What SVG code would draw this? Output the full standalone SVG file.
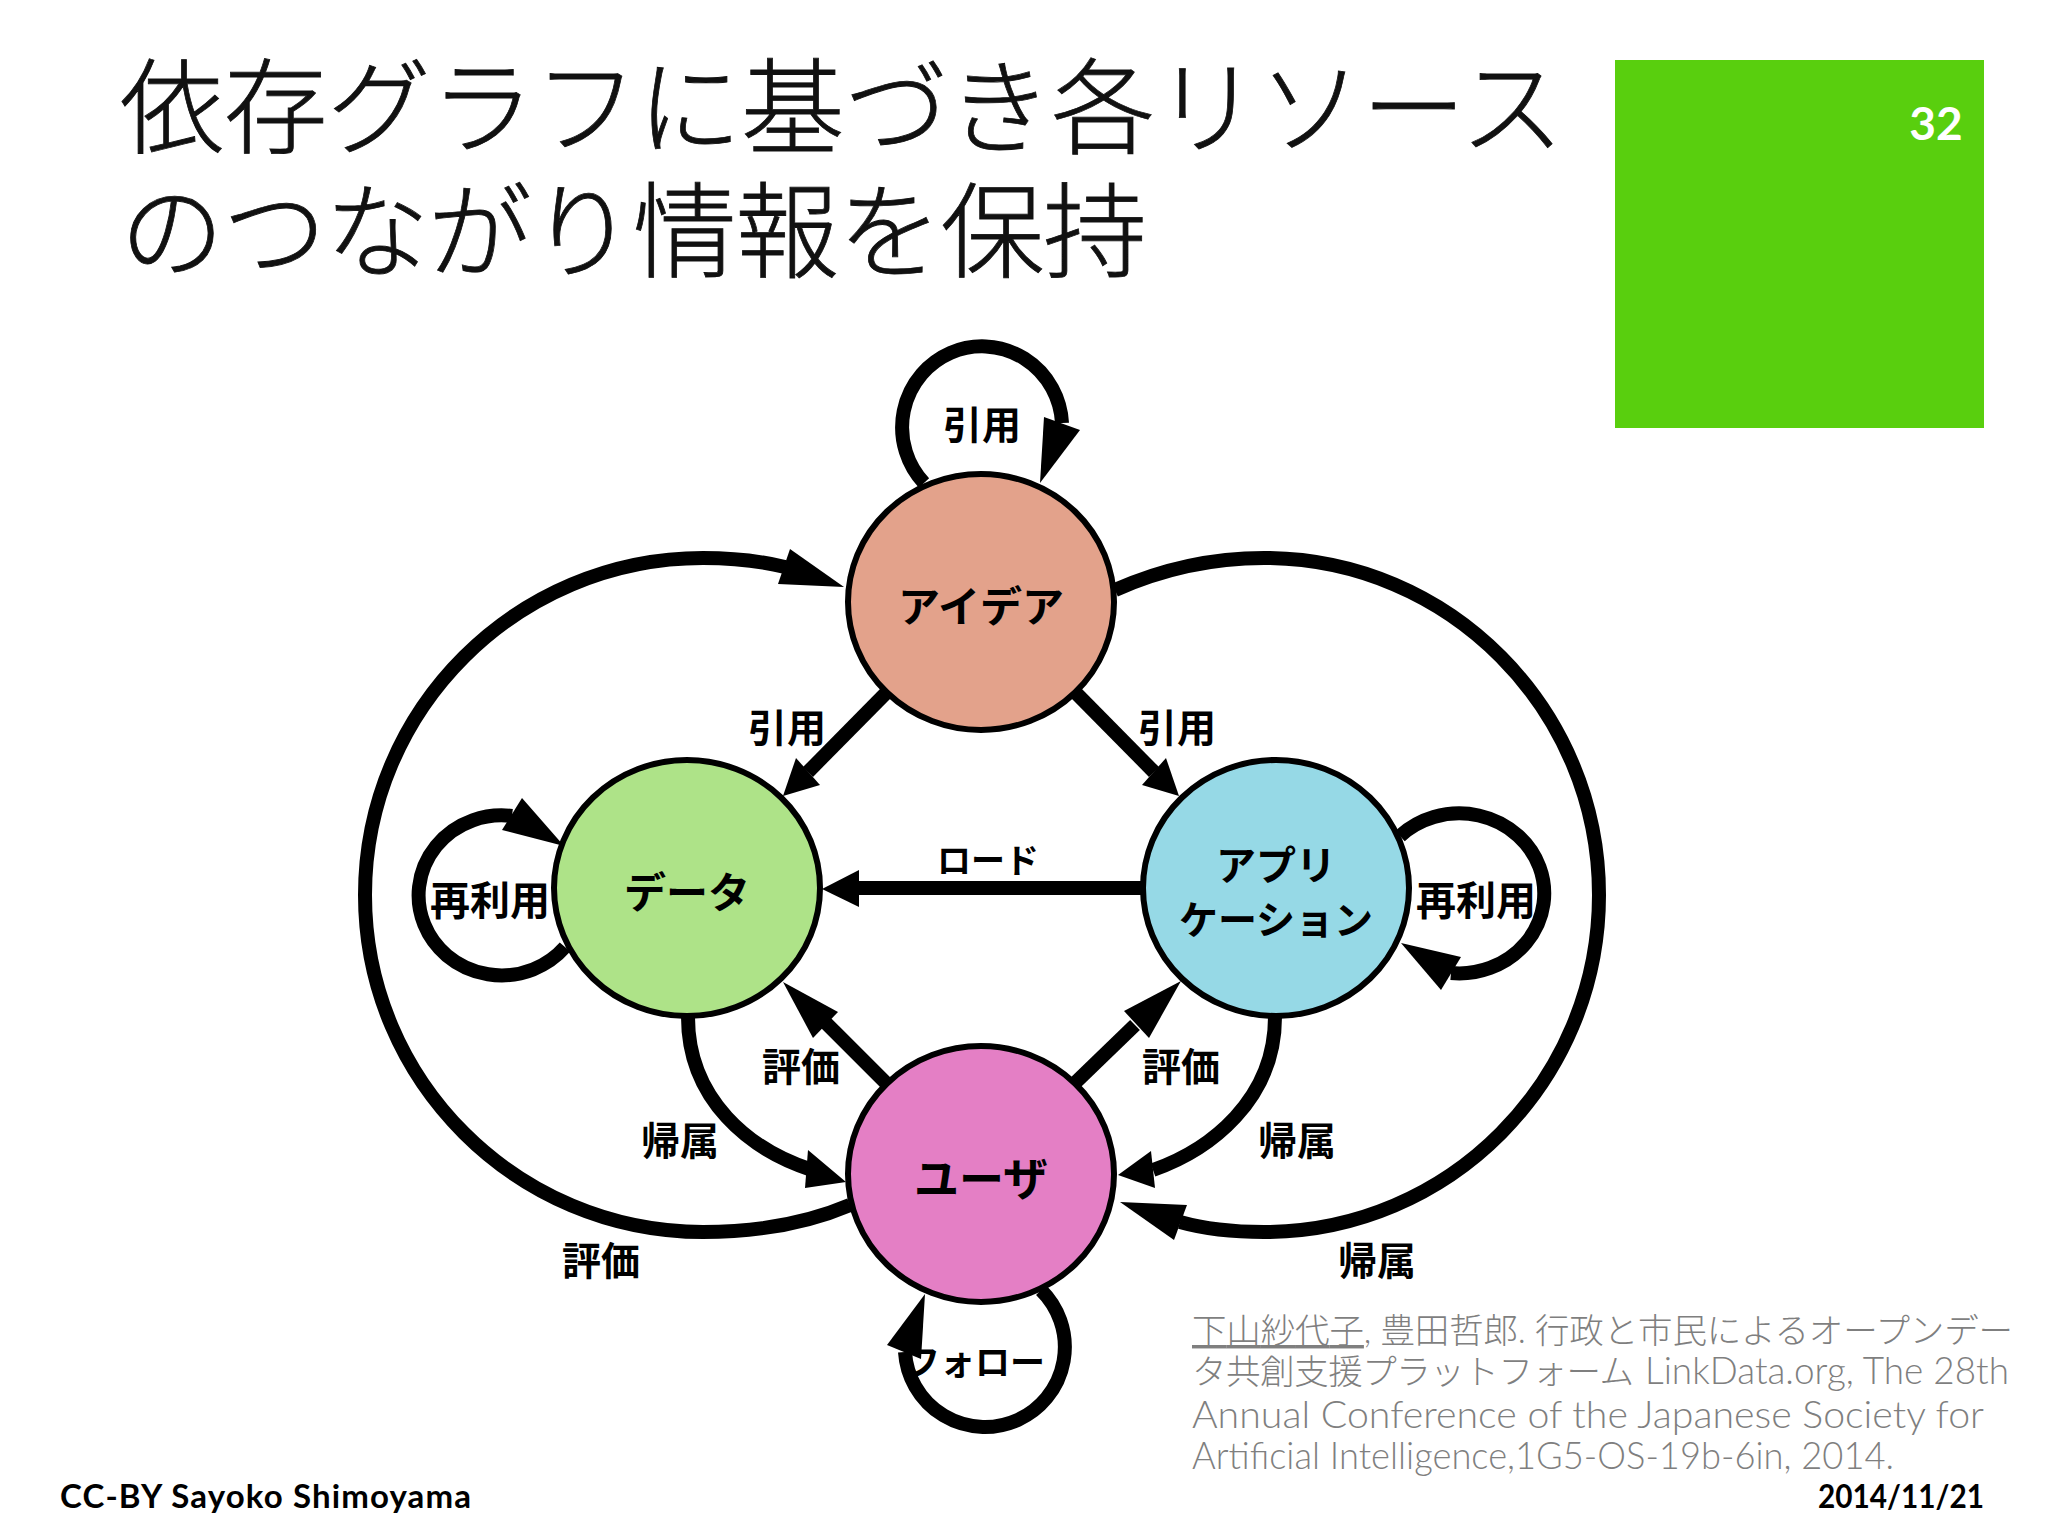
<svg xmlns="http://www.w3.org/2000/svg" width="2048" height="1536" viewBox="0 0 2048 1536">
<style>
.t{font-family:"Noto Sans CJK JP","Noto Sans",sans-serif;fill:#000}
.title{font-size:104px;font-weight:300;fill:#111;stroke:#111;stroke-width:.8}
.lab{font-size:39px;font-weight:700;text-anchor:middle}
.lab3{font-size:40px}
.node-t{font-size:42px;font-weight:700;text-anchor:middle}
.cite{font-family:"Lato","Noto Sans CJK JP",sans-serif;font-size:34.5px;font-weight:300;fill:#7f7f7f}
.lat{font-size:37px}
.foot{font-family:"Lato","Noto Sans",sans-serif;font-size:33px;font-weight:700;fill:#000}
.n{stroke:#000;stroke-width:6}
.c{fill:none;stroke:#000;stroke-width:14}
.h{fill:#000}
</style>
<rect width="2048" height="1536" fill="#fff"/>
<rect x="1615" y="60" width="369" height="368" fill="#59cf0e"/>
<text x="1936" y="140" font-family="Lato,'Noto Sans',sans-serif" font-size="46" font-weight="700" fill="#fff" text-anchor="middle">32</text>
<text class="t title" x="120" y="146" textLength="1444">依存グラフに基づき各リソース</text>
<text class="t title" x="120" y="270" textLength="1027">のつながり情報を保持</text>
<g id="connectors">
<path class="c" d="M924 483A80 81 0 1 1 1062 423"/><polygon class="h" points="1040,483 1044,417 1080,430"/>
<path class="c" d="M850 1205C810 1222 760 1232 703 1232C517 1232 365 1081 365 895C365 709 517 558 703 558C730 558 760 561 785 567"/><polygon class="h" points="844,587 790,549 778,584"/>
<path class="c" d="M1115 590C1160 570 1210 558 1264 558C1449 558 1599 709 1599 895C1599 1081 1449 1232 1264 1232C1235 1232 1205 1229 1180 1222"/><polygon class="h" points="1120,1202 1187,1205 1174,1240"/>
<path class="c" d="M886 693L808 772"/><polygon class="h" points="783,796 796,758 820,785"/>
<path class="c" d="M1076 693L1154 772"/><polygon class="h" points="1179,796 1166,758 1142,785"/>
<path class="c" d="M1146 888H855"/><polygon class="h" points="822,889 859,870 859,907"/>
<path class="c" d="M886 1083L810 1007"/><polygon class="h" points="783,982 838,1012 813,1038"/>
<path class="c" d="M1075 1083L1135 1025"/><polygon class="h" points="1181,981 1124,1011 1149,1038"/>
<path class="c" d="M565 947A83 80 0 1 1 512 816"/><polygon class="h" points="564,846 522,798 502,830"/>
<path class="c" d="M1400 836A85 80 0 1 1 1451 973"/><polygon class="h" points="1401,943 1461,957 1441,990"/>
<path class="c" d="M1041 1290A80 80 0 1 1 905 1352"/><polygon class="h" points="925,1294 887,1345 921,1359"/>
<path class="c" d="M688 1017C688 1100 750 1150 812 1170"/><polygon class="h" points="846,1182 808,1150 805,1188"/>
<path class="c" d="M1275 1017C1275 1100 1210 1150 1153 1170"/><polygon class="h" points="1118,1175 1151,1151 1155,1188"/>
</g>
<g id="node-idea"><ellipse class="n" cx="981" cy="602" rx="133" ry="128" fill="#e3a28b"/><text class="t node-t" x="981" y="622">アイデア</text></g>
<g id="node-data"><ellipse class="n" cx="687" cy="888" rx="133" ry="128" fill="#aee388"/><text class="t node-t" x="687" y="908">データ</text></g>
<g id="node-app"><ellipse class="n" cx="1276" cy="888" rx="133" ry="128" fill="#96d9e6"/><text class="t node-t" x="1276" y="880" style="font-size:40px">アプリ</text><text class="t node-t" x="1276" y="934" style="font-size:39px">ケーション</text></g>
<g id="node-user"><ellipse class="n" cx="981" cy="1174" rx="133" ry="128" fill="#e47fc5"/><text class="t node-t" x="981" y="1196" style="font-size:45px">ユーザ</text></g>
<g id="labels">
<text class="t lab" x="982" y="439">引用</text>
<text class="t lab" x="787" y="742">引用</text>
<text class="t lab" x="1177" y="742">引用</text>
<text class="t lab" x="988" y="873" style="font-size:34px">ロード</text>
<text class="t lab lab3" x="490" y="915">再利用</text>
<text class="t lab lab3" x="1476" y="915">再利用</text>
<text class="t lab" x="801" y="1081">評価</text>
<text class="t lab" x="1181" y="1081">評価</text>
<text class="t lab" x="680" y="1155">帰属</text>
<text class="t lab" x="1297" y="1155">帰属</text>
<text class="t lab" x="601" y="1275">評価</text>
<text class="t lab" x="1377" y="1275">帰属</text>
<text class="t lab" x="975" y="1375" style="font-size:35px">フォロー</text>
</g>
<g id="citation">
<text class="cite" x="1192" y="1343" textLength="821"><tspan text-decoration="underline">下山紗代子</tspan>, 豊田哲郎. 行政と市民によるオープンデー</text>
<text class="cite" x="1192" y="1384" textLength="442">タ共創支援プラットフォーム</text>
<text class="cite lat" x="1645" y="1384" textLength="364" lengthAdjust="spacingAndGlyphs">LinkData.org, The 28th</text>
<text class="cite lat" x="1192" y="1428" textLength="792" lengthAdjust="spacingAndGlyphs">Annual Conference of the Japanese Society for</text>
<text class="cite lat" x="1192" y="1469" textLength="702" lengthAdjust="spacingAndGlyphs">Artificial Intelligence,1G5-OS-19b-6in, 2014.</text>
</g>
<text class="foot" x="60" y="1508" textLength="411">CC-BY Sayoko Shimoyama</text>
<text class="foot" x="1818" y="1508" textLength="166" lengthAdjust="spacingAndGlyphs">2014/11/21</text>
</svg>
